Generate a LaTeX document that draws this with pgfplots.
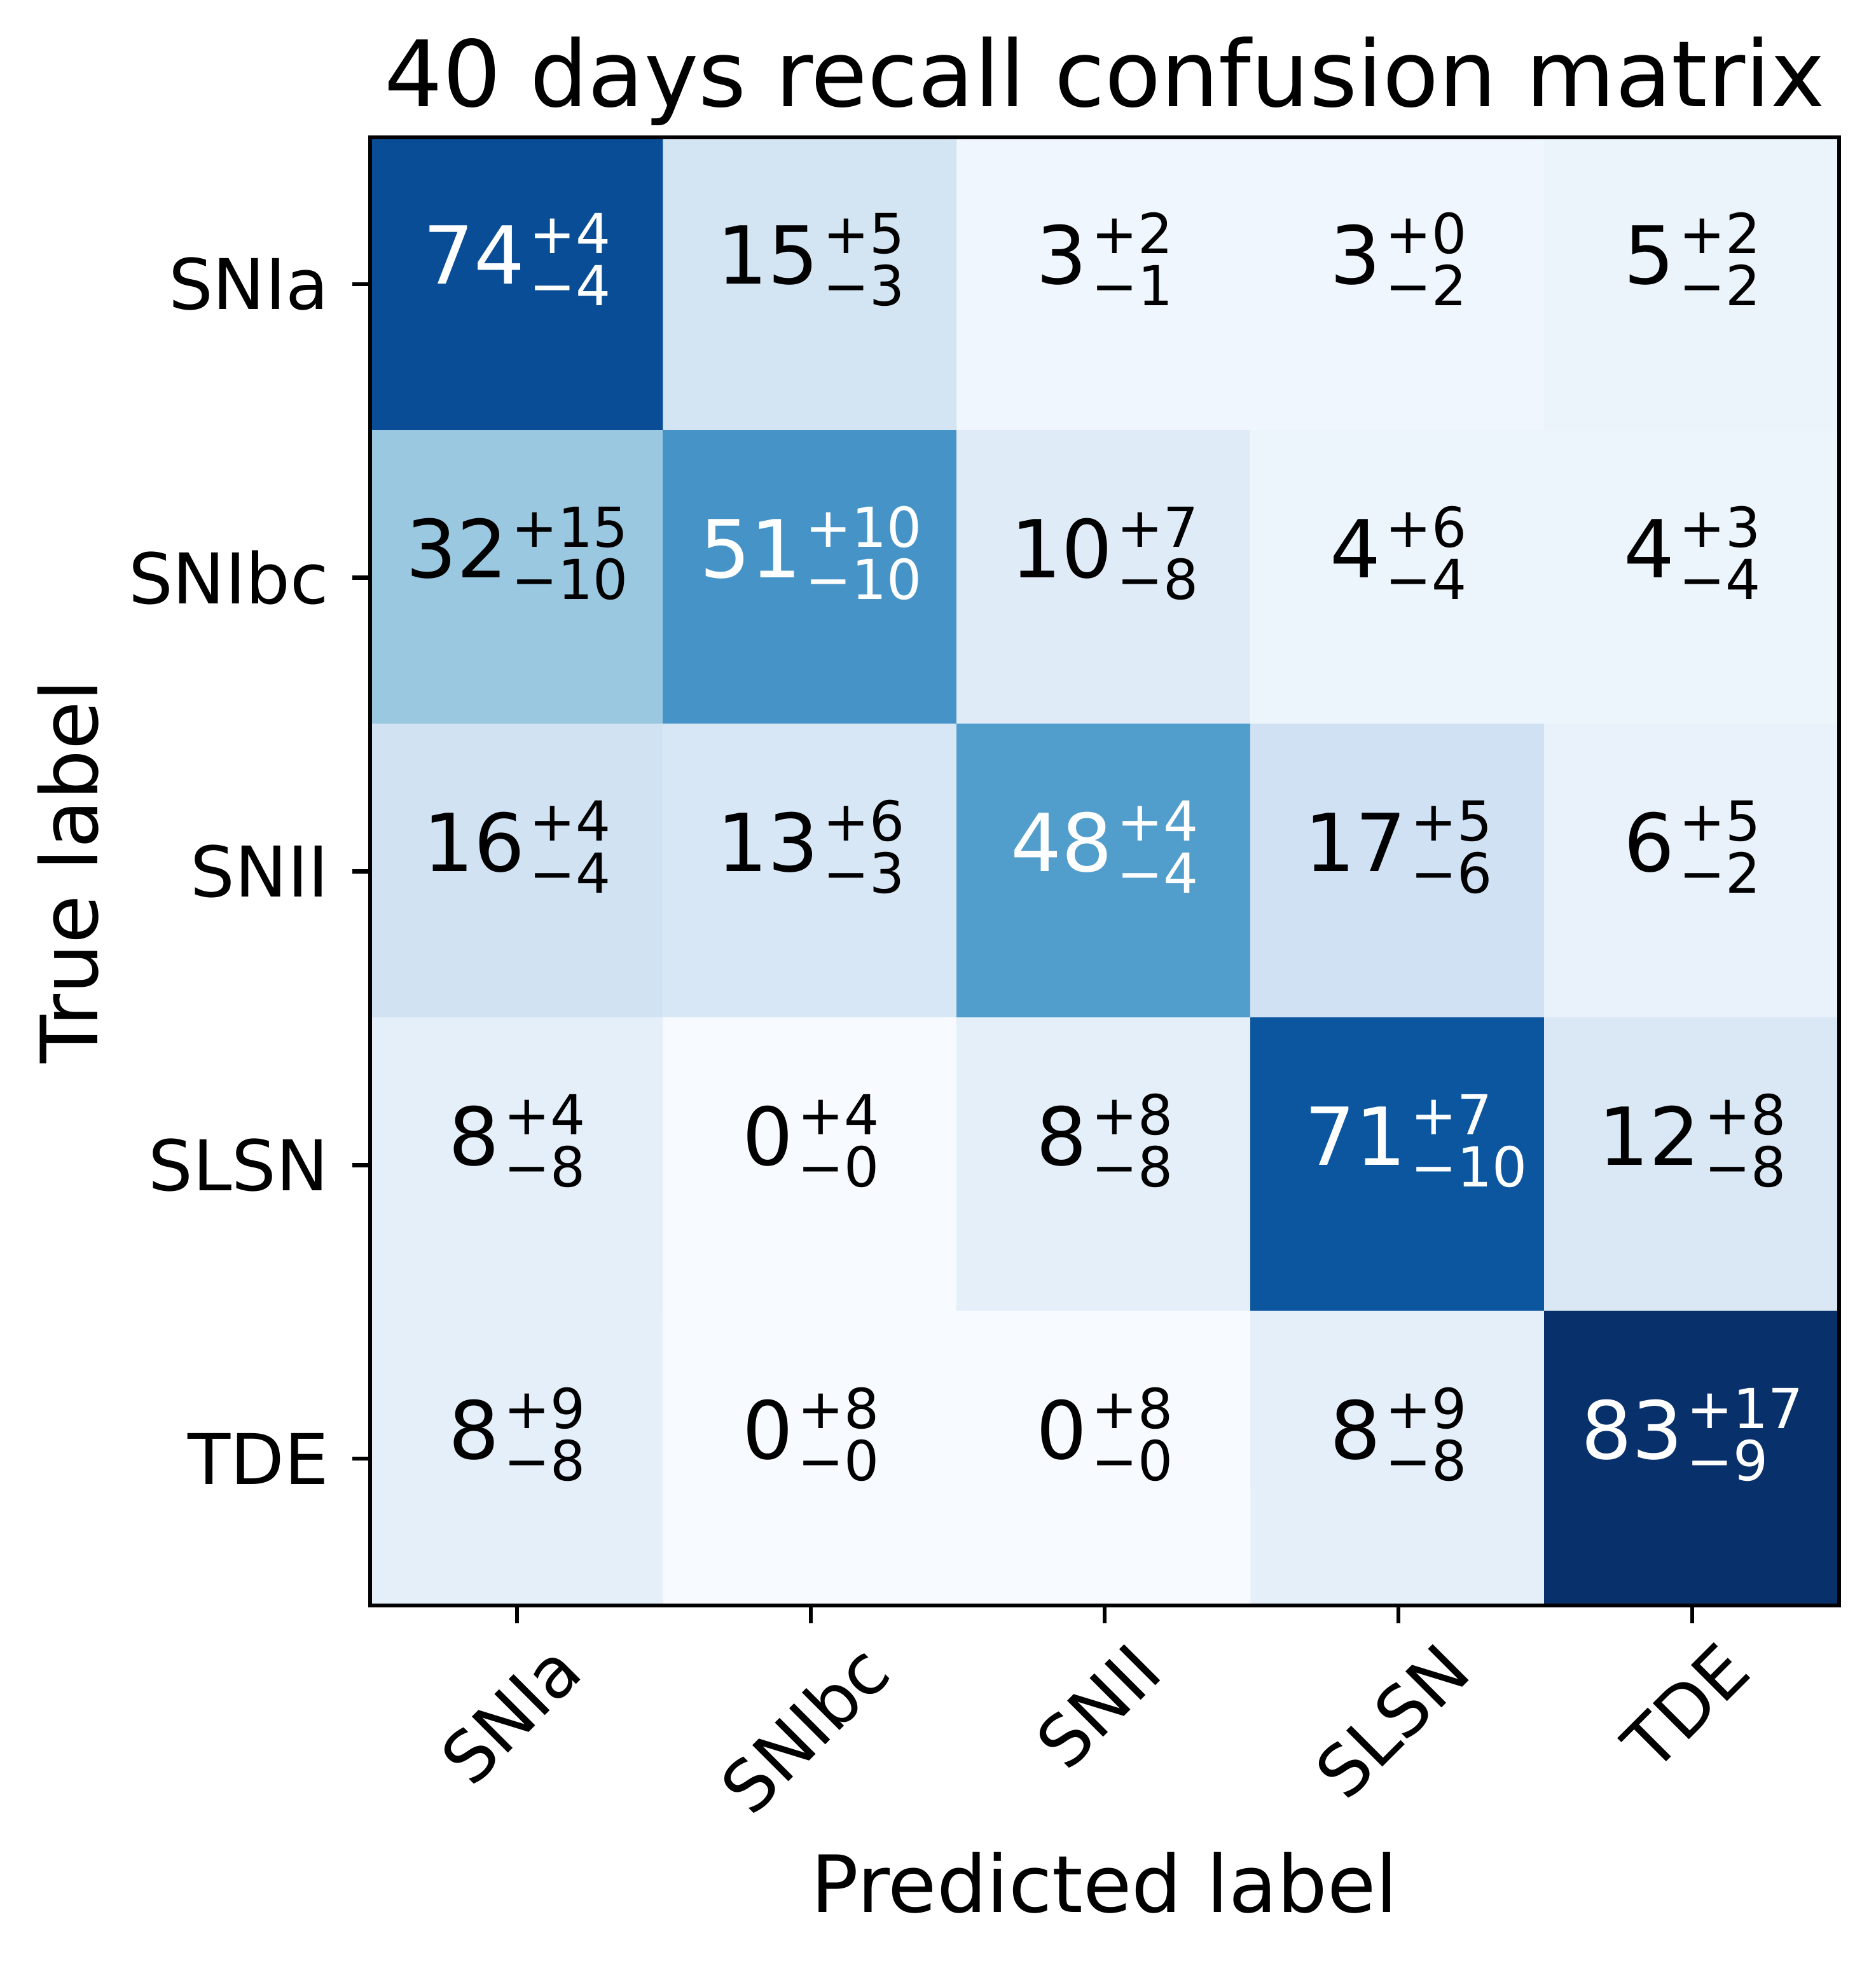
\documentclass[border=0pt]{standalone}
\usepackage{pgfplots}
\pgfplotsset{compat=1.18}
\usepackage{pgfplotstable}
\usepackage{graphicx}
\usepackage{fontspec}
\setmainfont{DejaVu Sans}
\newcommand\titlef{\fontsize{17.3}{20}\selectfont}
\newcommand\labf{\fontsize{14.9}{18}\selectfont}
\newcommand\tickf{\fontsize{13.2}{16}\selectfont}
\newcommand\cellf{\fontsize{15.1}{18}\selectfont}
\newcommand\supf{\fontsize{10.4}{12}\selectfont}
\newlength\scrw
\newcommand\cellv[3]{#1\kern0.8pt{\supf\settowidth\scrw{+#2}%
\rlap{\raisebox{5.76pt}{+#2}}\rlap{\raisebox{-4.08pt}{−#3}}\kern\scrw}}
\def\cellsplit#1/#2/#3\relax{\cellv{#1}{#2}{#3}}
\newcommand\celltext{\expandafter\cellsplit\pgfplotspointmeta\relax}
\pgfplotstableread{
x y v
0 0 74
1 0 15
2 0 3
3 0 3
4 0 5
0 1 32
1 1 51
2 1 10
3 1 4
4 1 4
0 2 16
1 2 13
2 2 48
3 2 17
4 2 6
0 3 8
1 3 0
2 3 8
3 3 71
4 3 12
0 4 8
1 4 0
2 4 0
3 4 8
4 4 83
}\cells
\pgfplotstableread{
x y lab
1 0 15/5/3
2 0 3/2/1
3 0 3/0/2
4 0 5/2/2
0 1 32/15/10
2 1 10/7/8
3 1 4/6/4
4 1 4/3/4
0 2 16/4/4
1 2 13/6/3
3 2 17/5/6
4 2 6/5/2
0 3 8/4/8
1 3 0/4/0
2 3 8/8/8
4 3 12/8/8
0 4 8/9/8
1 4 0/8/0
2 4 0/8/0
3 4 8/9/8
}\blacklab
\pgfplotstableread{
x y lab
0 0 74/4/4
1 1 51/10/10
2 2 48/4/4
3 3 71/7/10
4 4 83/17/9
}\whitelab
\begin{document}
\begin{tikzpicture}
\begin{axis}[
  at={(0,0)}, anchor=south west,
  scale only axis, width=277.2pt, height=277.1pt,
  xmin=-0.5, xmax=4.5, ymin=-0.5, ymax=4.5,
  y dir=reverse, enlargelimits=false, axis on top,
  axis line style={line width=0.8pt},
  every tick/.style={line width=0.8pt, black},
  major tick length=3.4pt, tick align=outside, tick pos=left,
  xtick={0,1,2,3,4}, ytick={0,1,2,3,4},
  xticklabels={\rotatebox{45}{SNIa},\rotatebox{45}{SNIbc},\rotatebox{45}{SNII},\rotatebox{45}{SLSN},\rotatebox{45}{TDE}},
  yticklabels={SNIa,SNIbc,SNII,SLSN,TDE},
  ticklabel style={font=\tickf, inner sep=0pt},
  xticklabel style={anchor=north, yshift=-2.7pt, xshift=-1.2pt},
  yticklabel style={anchor=east, xshift=-4.2pt},
  colormap={blues}{rgb255=(247,251,255) rgb255=(222,235,247) rgb255=(198,219,239) rgb255=(158,202,225) rgb255=(107,174,214) rgb255=(66,146,198) rgb255=(33,113,181) rgb255=(8,81,156) rgb255=(8,48,107)},
  point meta min=0, point meta max=83,
  title={40 days recall confusion matrix},
  every axis title/.style={font=\titlef, at={([yshift=5.76pt]axis description cs:0.5,1)}, anchor=base, inner sep=0pt},
  xlabel={Predicted label},
  every axis x label/.style={font=\labf, at={([yshift=-57.84pt]axis description cs:0.5,0)}, anchor=base, inner sep=0pt},
  ylabel={True label},
  every axis y label/.style={font=\labf, at={([xshift=-51.36pt]axis description cs:0,0.5)}, rotate=90, anchor=base, inner sep=0pt},
]
\addplot[matrix plot*, mesh/cols=5, point meta=explicit] table[x=x, y=y, meta=v] {\cells};
\addplot[only marks, mark=none, point meta=explicit symbolic,
  nodes near coords={\celltext},
  every node near coord/.append style={anchor=base, inner sep=0pt, font=\cellf, text=black}]
  table[x=x, y=y, meta=lab] {\blacklab};
\addplot[only marks, mark=none, point meta=explicit symbolic,
  nodes near coords={\celltext},
  every node near coord/.append style={anchor=base, inner sep=0pt, font=\cellf, text=white}]
  table[x=x, y=y, meta=lab] {\whitelab};
\end{axis}
\pgfresetboundingbox
\path[use as bounding box] (-69.84pt,-68.04pt) rectangle (284.16pt,303.02pt);
\end{tikzpicture}
\end{document}
